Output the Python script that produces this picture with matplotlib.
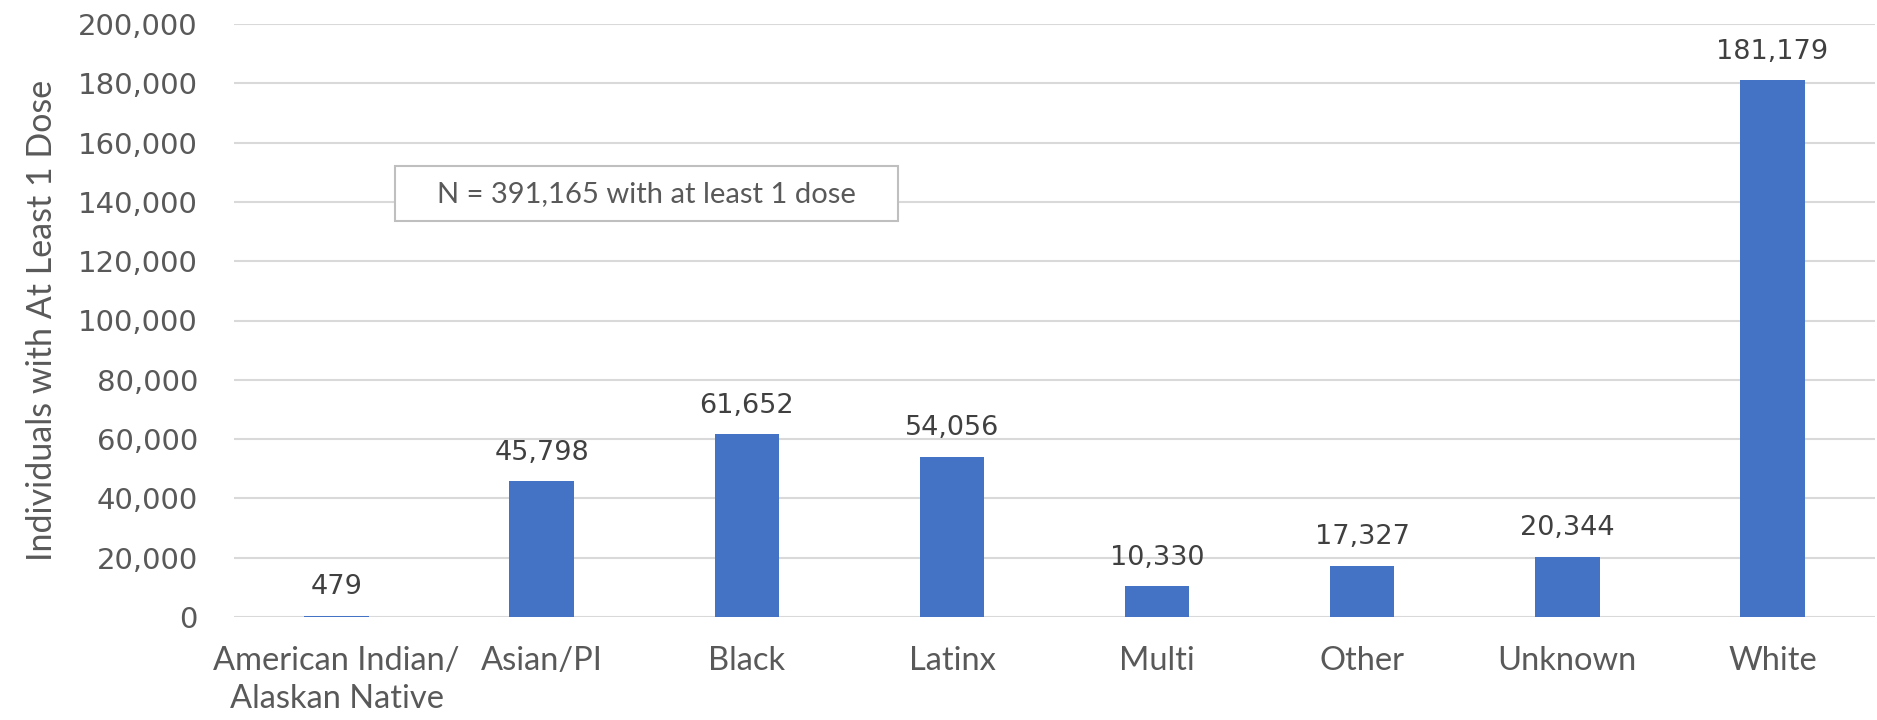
import matplotlib.pyplot as plt
from matplotlib.patches import Rectangle
from matplotlib.ticker import FuncFormatter

groups = ['American Indian/\nAlaskan Native', 'Asian/PI', 'Black', 'Latinx',
          'Multi', 'Other', 'Unknown', 'White']
doses = [479, 45798, 61652, 54056, 10330, 17327, 20344, 181179]
total_note = 'N = 391,165 with at least 1 dose'

bar_color = '#4472C4'
grid_color = '#d9d9d9'
text_color = '#595959'

W, H = 1877, 720
fig = plt.figure(figsize=(W / 100, H / 100), dpi=100)
ax = fig.add_axes([234 / W, 1 - 617 / H, 1641 / W, 593 / H])

x = range(len(groups))
bars = ax.bar(x, doses, width=0.315, color=bar_color, zorder=3)

for b, v in zip(bars, doses):
    ax.annotate(f'{v:,}', (b.get_x() + b.get_width() / 2, v),
                xytext=(0, 11), textcoords='offset points',
                ha='center', va='bottom', fontsize=19.5, color='#404040',
                family='DejaVu Sans')

ax.set_xlim(-0.5, len(groups) - 0.5)
ax.set_ylim(0, 200000)
ax.set_yticks(range(0, 200001, 20000))
ax.yaxis.set_major_formatter(FuncFormatter(lambda v, p: f'{int(v):,}'))
ax.set_xticks(list(x))
ax.set_xticklabels(groups, family='Lato', fontsize=23.5, color=text_color,
                   linespacing=1.32)
for lab in ax.get_yticklabels():
    lab.set_family('DejaVu Sans')
    lab.set_fontsize(21)
    lab.set_color(text_color)

ax.tick_params(axis='both', length=0)
ax.tick_params(axis='y', pad=26)
ax.tick_params(axis='x', pad=21)
ax.grid(axis='y', color=grid_color, linewidth=1.5, zorder=0)
for s in ax.spines.values():
    s.set_visible(False)

# y axis title, placed in figure coords
fig.text(42 / W, 1 - 320 / H, 'Individuals with At Least 1 Dose',
         rotation=90, ha='center', va='center', family='Lato', fontsize=24.5,
         color=text_color)

# note box with the total count
fig.patches.append(Rectangle((395 / W, 1 - 221 / H), 503 / W, 55 / H,
                             transform=fig.transFigure, fc='white',
                             ec='#bfbfbf', lw=1.5, zorder=5))
fig.text(646 / W, 1 - 194 / H, total_note, ha='center', va='center',
         family='Lato', fontsize=21, color=text_color, zorder=6)

fig.savefig('out.png', dpi=100, facecolor='white')
